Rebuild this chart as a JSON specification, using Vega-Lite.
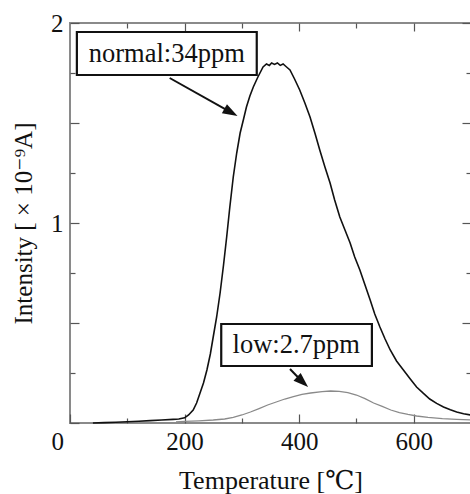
{
  "$schema": "https://vega.github.io/schema/vega-lite/v6.json",
  "width": 401,
  "height": 400,
  "autosize": "none",
  "padding": {"left": 70, "top": 23, "right": 0, "bottom": 71},
  "background": "white",
  "config": {
    "view": {"stroke": "#8a8a8a", "strokeWidth": 2},
    "font": "Times New Roman, Liberation Serif, DejaVu Serif, serif",
    "axis": {
      "labelFont": "Times New Roman, Liberation Serif, DejaVu Serif, serif",
      "titleFont": "Times New Roman, Liberation Serif, DejaVu Serif, serif",
      "labelColor": "#111",
      "titleColor": "#111",
      "titleFontWeight": "normal",
      "tickColor": "#555",
      "tickWidth": 1.2,
      "labelOverlap": false,
      "domain": false,
      "grid": false
    }
  },
  "datasets": {
    "curves": [
      {"series": "normal", "T": 40, "I": 0.0},
      {"series": "normal", "T": 60, "I": 0.002},
      {"series": "normal", "T": 80, "I": 0.004},
      {"series": "normal", "T": 100, "I": 0.006},
      {"series": "normal", "T": 120, "I": 0.009},
      {"series": "normal", "T": 140, "I": 0.012},
      {"series": "normal", "T": 160, "I": 0.015},
      {"series": "normal", "T": 180, "I": 0.018},
      {"series": "normal", "T": 190, "I": 0.02},
      {"series": "normal", "T": 200, "I": 0.026},
      {"series": "normal", "T": 207, "I": 0.04},
      {"series": "normal", "T": 215, "I": 0.065},
      {"series": "normal", "T": 221, "I": 0.1},
      {"series": "normal", "T": 227, "I": 0.15},
      {"series": "normal", "T": 233, "I": 0.2},
      {"series": "normal", "T": 239, "I": 0.265},
      {"series": "normal", "T": 245, "I": 0.345},
      {"series": "normal", "T": 250, "I": 0.43},
      {"series": "normal", "T": 256, "I": 0.53},
      {"series": "normal", "T": 262, "I": 0.65},
      {"series": "normal", "T": 268, "I": 0.79},
      {"series": "normal", "T": 273.5, "I": 0.93},
      {"series": "normal", "T": 279, "I": 1.08},
      {"series": "normal", "T": 285, "I": 1.23},
      {"series": "normal", "T": 291, "I": 1.35},
      {"series": "normal", "T": 297, "I": 1.45},
      {"series": "normal", "T": 303, "I": 1.52},
      {"series": "normal", "T": 308, "I": 1.58},
      {"series": "normal", "T": 314, "I": 1.635},
      {"series": "normal", "T": 320, "I": 1.68},
      {"series": "normal", "T": 328, "I": 1.73},
      {"series": "normal", "T": 337, "I": 1.78},
      {"series": "normal", "T": 343, "I": 1.795},
      {"series": "normal", "T": 348, "I": 1.788},
      {"series": "normal", "T": 352, "I": 1.8},
      {"series": "normal", "T": 357, "I": 1.793},
      {"series": "normal", "T": 362, "I": 1.8},
      {"series": "normal", "T": 367, "I": 1.788},
      {"series": "normal", "T": 372, "I": 1.795},
      {"series": "normal", "T": 378, "I": 1.78},
      {"series": "normal", "T": 384, "I": 1.765},
      {"series": "normal", "T": 392, "I": 1.72},
      {"series": "normal", "T": 401, "I": 1.665},
      {"series": "normal", "T": 410, "I": 1.6},
      {"series": "normal", "T": 419, "I": 1.53},
      {"series": "normal", "T": 428, "I": 1.445},
      {"series": "normal", "T": 436, "I": 1.365},
      {"series": "normal", "T": 445, "I": 1.28},
      {"series": "normal", "T": 454, "I": 1.2},
      {"series": "normal", "T": 462, "I": 1.115},
      {"series": "normal", "T": 471, "I": 1.03},
      {"series": "normal", "T": 480, "I": 0.965},
      {"series": "normal", "T": 489, "I": 0.9},
      {"series": "normal", "T": 497, "I": 0.83},
      {"series": "normal", "T": 506, "I": 0.765},
      {"series": "normal", "T": 515, "I": 0.69},
      {"series": "normal", "T": 524, "I": 0.615},
      {"series": "normal", "T": 532, "I": 0.545},
      {"series": "normal", "T": 541, "I": 0.48},
      {"series": "normal", "T": 550, "I": 0.42},
      {"series": "normal", "T": 559, "I": 0.365},
      {"series": "normal", "T": 570, "I": 0.31},
      {"series": "normal", "T": 582, "I": 0.265},
      {"series": "normal", "T": 594, "I": 0.22},
      {"series": "normal", "T": 605, "I": 0.18},
      {"series": "normal", "T": 617, "I": 0.148},
      {"series": "normal", "T": 628, "I": 0.12},
      {"series": "normal", "T": 640, "I": 0.098},
      {"series": "normal", "T": 652, "I": 0.08},
      {"series": "normal", "T": 664, "I": 0.066},
      {"series": "normal", "T": 675, "I": 0.055},
      {"series": "normal", "T": 687, "I": 0.046},
      {"series": "normal", "T": 700, "I": 0.04},
      {"series": "low", "T": 185, "I": 0.006},
      {"series": "low", "T": 200, "I": 0.008},
      {"series": "low", "T": 225, "I": 0.011},
      {"series": "low", "T": 250, "I": 0.015},
      {"series": "low", "T": 270, "I": 0.02},
      {"series": "low", "T": 285, "I": 0.028},
      {"series": "low", "T": 300, "I": 0.04},
      {"series": "low", "T": 315, "I": 0.055},
      {"series": "low", "T": 330, "I": 0.072},
      {"series": "low", "T": 345, "I": 0.09},
      {"series": "low", "T": 360, "I": 0.105},
      {"series": "low", "T": 375, "I": 0.12},
      {"series": "low", "T": 390, "I": 0.132},
      {"series": "low", "T": 405, "I": 0.143},
      {"series": "low", "T": 420, "I": 0.15},
      {"series": "low", "T": 440, "I": 0.157},
      {"series": "low", "T": 455, "I": 0.16},
      {"series": "low", "T": 470, "I": 0.158},
      {"series": "low", "T": 485, "I": 0.152},
      {"series": "low", "T": 500, "I": 0.14},
      {"series": "low", "T": 515, "I": 0.122},
      {"series": "low", "T": 530, "I": 0.1},
      {"series": "low", "T": 545, "I": 0.083},
      {"series": "low", "T": 560, "I": 0.065},
      {"series": "low", "T": 575, "I": 0.052},
      {"series": "low", "T": 590, "I": 0.043},
      {"series": "low", "T": 605, "I": 0.035},
      {"series": "low", "T": 625, "I": 0.028},
      {"series": "low", "T": 650, "I": 0.022},
      {"series": "low", "T": 675, "I": 0.018},
      {"series": "low", "T": 700, "I": 0.015}
    ],
    "boxes": [
      {"label": "normal:34ppm", "x1": 12, "x2": 326, "y1": 1.955, "y2": 1.74, "tx": 169, "ty": 1.845},
      {"label": "low:2.7ppm", "x1": 264, "x2": 527, "y1": 0.495, "y2": 0.285, "tx": 395, "ty": 0.39}
    ],
    "arrows": [
      {"name": "normal", "x1": 174, "y1": 1.725, "x2": 281, "y2": 1.553, "angle": 29},
      {"name": "low", "x1": 384, "y1": 0.27, "x2": 406, "y2": 0.205, "angle": 43}
    ]
  },
  "layer": [
    {
      "data": {"name": "curves"},
      "mark": {"type": "line", "interpolate": "linear"},
      "encoding": {
        "x": {
          "field": "T", "type": "quantitative",
          "scale": {"domain": [0, 700], "nice": false, "zero": false},
          "axis": {
            "orient": "bottom",
            "values": [0, 100, 200, 300, 400, 500, 600, 700],
            "labelExpr": "datum.value == 0 ? '0' : datum.value == 200 ? '200' : datum.value == 400 ? '400' : datum.value == 600 ? '600' : ''",
            "labelFontSize": 25,
            "labelPadding": 15,
            "labelOffset": {"condition": {"test": "datum.value == 0", "value": -19}, "value": 0},
            "tickSize": {"condition": {"test": "datum.value % 200 == 0", "value": -9}, "value": -5},
            "title": "Temperature [℃]",
            "titleFontSize": 26,
            "titlePadding": 9
          }
        },
        "y": {
          "field": "I", "type": "quantitative",
          "scale": {"domain": [0, 2], "nice": false},
          "axis": {
            "orient": "left",
            "values": [0, 0.25, 0.5, 0.75, 1, 1.25, 1.5, 1.75, 2],
            "labelExpr": "datum.value == 1 ? '1' : datum.value == 2 ? '2' : ''",
            "labelFontSize": 25,
            "labelPadding": 16,
            "tickSize": {"condition": {"test": "datum.value % 0.5 == 0", "value": -9}, "value": -5},
            "title": "Intensity [ × 10⁻⁹A]",
            "titleFontSize": 25,
            "titlePadding": 14
          }
        },
        "color": {
          "field": "series", "type": "nominal",
          "scale": {"domain": ["normal", "low"], "range": ["#111111", "#8a8a8a"]},
          "legend": null
        },
        "strokeWidth": {
          "field": "series", "type": "nominal",
          "scale": {"domain": ["normal", "low"], "range": [1.6, 1.3]},
          "legend": null
        }
      }
    },
    {
      "data": {"name": "boxes"},
      "mark": {"type": "rect", "fill": "white", "stroke": "#111", "strokeWidth": 2.2},
      "encoding": {
        "x": {
          "field": "x1", "type": "quantitative",
          "axis": {
            "orient": "top",
            "values": [100, 200, 300, 400, 500, 600, 700],
            "labels": false,
            "tickSize": {"condition": {"test": "datum.value % 200 == 0", "value": -8}, "value": -5},
            "title": null
          }
        },
        "x2": {"field": "x2"},
        "y": {
          "field": "y1", "type": "quantitative",
          "axis": {
            "orient": "right",
            "values": [0.25, 0.5, 0.75, 1, 1.25, 1.5, 1.75, 2],
            "labels": false,
            "tickSize": {"condition": {"test": "datum.value % 0.5 == 0", "value": -9}, "value": -5},
            "title": null
          }
        },
        "y2": {"field": "y2"}
      }
    },
    {
      "data": {"name": "boxes"},
      "mark": {"type": "text", "fontSize": 26.5, "font": "Times New Roman, Liberation Serif, DejaVu Serif, serif", "color": "#111", "align": "center", "baseline": "middle"},
      "encoding": {
        "x": {"field": "tx", "type": "quantitative", "axis": null},
        "y": {"field": "ty", "type": "quantitative", "axis": null},
        "text": {"field": "label"}
      }
    },
    {
      "data": {"name": "arrows"},
      "mark": {"type": "rule", "color": "#111", "strokeWidth": 2},
      "encoding": {
        "x": {"field": "x1", "type": "quantitative", "axis": null},
        "y": {"field": "y1", "type": "quantitative", "axis": null},
        "x2": {"field": "x2"},
        "y2": {"field": "y2"}
      }
    },
    {
      "data": {"name": "arrows"},
      "mark": {"type": "point", "shape": "M-1,-0.7L1,0L-1,0.7Z", "filled": true, "color": "#111", "opacity": 1, "size": 225},
      "encoding": {
        "x": {"field": "x2", "type": "quantitative", "axis": null},
        "y": {"field": "y2", "type": "quantitative", "axis": null},
        "angle": {"field": "angle", "type": "quantitative", "scale": null}
      }
    }
  ],
  "resolve": {"axis": {"x": "independent", "y": "independent"}}
}
